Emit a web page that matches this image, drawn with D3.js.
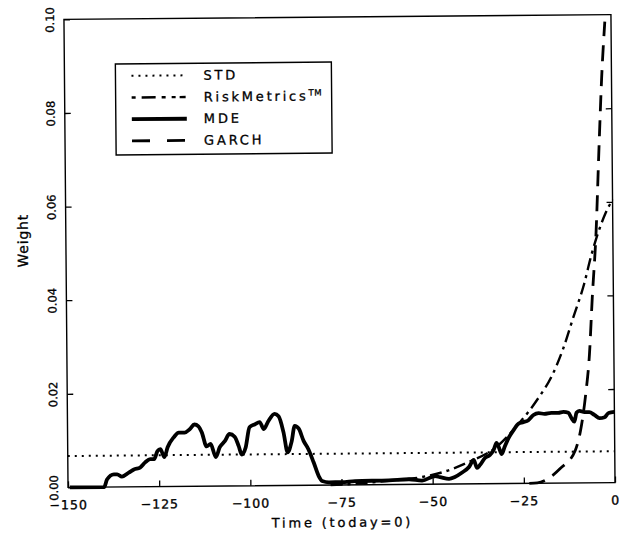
<!DOCTYPE html>
<html>
<head>
<meta charset="utf-8">
<script src="https://cdn.jsdelivr.net/npm/d3@7"></script>
<style>
  body { margin: 0; background: #fff; }
  text { fill: #000; }
</style>
</head>
<body>
<div id="chart"></div>
<script>
    // weights, time in days (today = 0)

    var stdT = [-150, 0];
    var stdW = [0.0067, 0.0067];

    var rmT = [-78, -70, -62, -55, -47, -40, -33, -26, -21, -17, -14, -11, -8, -6, -4, -2, 0];
    var rmW = [0.0000, 0.0003, 0.0008, 0.0013, 0.0026, 0.0047, 0.0075, 0.0130, 0.0180, 0.0230, 0.0285, 0.0355, 0.0425, 0.0485, 0.0535, 0.0575, 0.0605];

    var mdeT = [-149.5, -140.1, -139.3, -137.4, -136.5, -135.2, -133.2, -131.9, -130.2, -128.8, -127.4, -126.3,
                -125.4, -124.6, -123.5, -122.6, -120.9, -119.5, -117.9, -116.5, -115.2, -114.1, -113.2, -111.9,
                -110.8, -109.4, -108.3, -106.9, -105.6, -104.2, -103.1, -102.3, -101.2, -100.1, -98.7, -97.3,
                -96.2, -94.9, -93.2, -92.1, -90.8, -89.7, -88.6, -87.7, -86.6, -85.3, -84.0, -82.6, -81.2,
                -80.3, -78.4, -74.9, -71.3, -62.0, -56.5, -52.9, -49.4, -48.0, -45.5, -43.9, -42.0, -40.0,
                -38.7, -37.8, -37.0, -35.6, -34.3, -33.2, -32.4, -31.8, -31.0, -30.2, -29.1, -27.7, -26.3,
                -25.0, -23.6, -22.2, -20.8, -19.2, -17.3, -15.4, -14.0, -12.6, -11.8, -11.0, -10.4, -9.6,
                -8.2, -6.9, -5.5, -4.1, -2.7, -1.6, 0];
    var mdeW = [0.0000, 0.0000, 0.0016, 0.0027, 0.0027, 0.0022, 0.0031, 0.0037, 0.0041, 0.0052, 0.0059, 0.0059,
                0.0076, 0.0080, 0.0063, 0.0084, 0.0105, 0.0115, 0.0115, 0.0122, 0.0132, 0.0128, 0.0115, 0.0085,
                0.0090, 0.0062, 0.0083, 0.0096, 0.0111, 0.0105, 0.0085, 0.0067, 0.0082, 0.0125, 0.0131, 0.0136,
                0.0121, 0.0138, 0.0153, 0.0148, 0.0114, 0.0071, 0.0093, 0.0127, 0.0121, 0.0095, 0.0077, 0.0049, 0.0019,
                0.0009, 0.0006, 0.0006, 0.0008, 0.0009, 0.0011, 0.0008, 0.0017, 0.0015, 0.0011, 0.0015, 0.0024, 0.0036,
                0.0051, 0.0034, 0.0040, 0.0055, 0.0061, 0.0072, 0.0087, 0.0078, 0.0063, 0.0078, 0.0097, 0.0114, 0.0128,
                0.0131, 0.0135, 0.0146, 0.0150, 0.0148, 0.0150, 0.0150, 0.0152, 0.0150, 0.0139, 0.0131, 0.0150, 0.0154,
                0.0151, 0.0151, 0.0145, 0.0138, 0.0140, 0.0149, 0.0151];

    var garchT = [-23.5, -21.3, -18.3, -15.0, -10.8, -9.3, -7.9, -6.7, -5.8, -4.6, -3.6, -2.7, -1.7];
    var garchW = [0.0000, 0.0001, 0.0010, 0.0031, 0.0070, 0.0113, 0.0185, 0.0275, 0.0395, 0.0535, 0.0715, 0.0865, 0.0985];

    var xTicks = [-150, -125, -100, -75, -50, -25, 0];
    var yTicks = [0, 0.02, 0.04, 0.06, 0.08, 0.10];

    var legendNames = ["STD", "RiskMetrics", "MDE", "GARCH"];

    // line styles for each series (legend keeps its own dash for GARCH)
    var styles = {
        STD:   {width: 2, dash: "2,5", key: "2,5"},
        RiskMetrics: {width: 2.4, dash: "12,5,3,5", key: "4,6,14,6,4,6,4"},
        MDE:   {width: 3.8, dash: null, key: null},
        GARCH: {width: 2.8, dash: "16,9", key: "18,17"}
    };

    var W = 623, H = 533;
    var svg = d3.select("#chart").append("svg")
                .attr("width", W)
                .attr("height", H)
                .style("font-family", "'DejaVu Sans', sans-serif");

    // the scanned original sits slightly tilted
    var g = svg.append("g").attr("transform", "rotate(-0.5,340,252)");

    var x = d3.scaleLinear().domain([-150, 0]).range([66, 613]);
    var y = d3.scaleLinear().domain([0, 0.1]).range([485, 17]);

    function pairs(ts, ws) { return ts.map(function (t, i) { return [t, ws[i]]; }); }

    var line = d3.line()
                 .x(function (d) { return x(d[0]); })
                 .y(function (d) { return y(d[1]); })
                 .curve(d3.curveMonotoneX);

    // frame
    g.append("rect")
       .attr("x", x(-150)).attr("y", y(0.1))
       .attr("width", x(0) - x(-150)).attr("height", y(0) - y(0.1))
       .attr("fill", "none").attr("stroke", "#000").attr("stroke-width", 1.4);

    // bottom axis, ticks pointing in
    var gx = g.append("g")
                .attr("transform", "translate(0," + y(0) + ")")
                .call(d3.axisBottom(x).tickValues(xTicks).tickSize(-6).tickPadding(13)
                        .tickFormat(d3.format("d")));
    gx.select(".domain").remove();
    gx.selectAll(".tick line").attr("stroke-width", 1.3);
    gx.selectAll(".tick text")
      .attr("font-size", 12.5)
      .attr("font-family", "'DejaVu Sans', sans-serif")
      .attr("stroke", "#000").attr("stroke-width", 0.35)
      .style("letter-spacing", "1px");

    // left axis, rotated labels
    var gy = g.append("g")
                .attr("transform", "translate(" + x(-150) + ",0)")
                .call(d3.axisLeft(y).tickValues(yTicks).tickSize(-6).tickFormat(d3.format(".2f")));
    gy.select(".domain").remove();
    gy.selectAll(".tick line").attr("stroke-width", 1.3);
    gy.selectAll(".tick text")
      .attr("transform", "rotate(-90)")
      .attr("x", 0).attr("y", -10).attr("dy", 0)
      .attr("text-anchor", "middle")
      .attr("font-size", 11.5)
      .attr("stroke", "#000").attr("stroke-width", 0.3)
      .attr("font-family", "'DejaVu Sans', sans-serif");

    // right axis, ticks only
    var gr = g.append("g")
                .attr("transform", "translate(" + x(0) + ",0)")
                .call(d3.axisRight(y).tickValues(yTicks.slice(1, 5)).tickSize(-6).tickFormat(""));
    gr.select(".domain").remove();
    gr.selectAll(".tick line").attr("stroke-width", 1.3);

    // axis titles
    g.append("text")
       .attr("x", 340).attr("y", 527)
       .attr("text-anchor", "middle")
       .attr("font-size", 13)
       .attr("stroke", "#000").attr("stroke-width", 0.3)
       .style("letter-spacing", "2.8px")
       .text("Time (today=0)");

    g.append("text")
       .attr("transform", "translate(28,238) rotate(-90)")
       .attr("text-anchor", "middle")
       .attr("font-size", 14)
       .attr("stroke", "#000").attr("stroke-width", 0.3)
       .style("letter-spacing", "0.8px")
       .text("Weight");

    // the four series
    var series = [
        {name: "STD", data: pairs(stdT, stdW)},
        {name: "RiskMetrics", data: pairs(rmT, rmW)},
        {name: "MDE", data: pairs(mdeT, mdeW)},
        {name: "GARCH", data: pairs(garchT, garchW)}
    ];

    g.selectAll("path.series")
       .data(series)
       .enter()
       .append("path")
       .attr("class", "series")
       .attr("d", function (d) { return line(d.data); })
       .attr("fill", "none")
       .attr("stroke", "#000")
       .attr("stroke-linejoin", "round")
       .attr("stroke-width", function (d) { return styles[d.name].width; })
       .attr("stroke-dasharray", function (d) { return styles[d.name].dash; });

    // legend
    var legend = g.append("g");
    legend.append("rect")
          .attr("x", 117).attr("y", 62).attr("width", 216).attr("height", 91)
          .attr("fill", "#fff").attr("stroke", "#000").attr("stroke-width", 1.4);

    var rows = legend.selectAll("g.row")
                     .data(legendNames)
                     .enter()
                     .append("g")
                     .attr("class", "row")
                     .attr("transform", function (d, i) { return "translate(0," + (74 + i * 21.7) + ")"; });

    rows.append("line")
        .attr("x1", 133).attr("x2", 188)
        .attr("stroke", "#000")
        .attr("stroke-width", function (d) { return styles[d].width; })
        .attr("stroke-dasharray", function (d) { return styles[d].key; });

    var labels = rows.append("text")
        .attr("x", 205).attr("y", 4.5)
        .attr("font-size", 13)
        .attr("stroke", "#000").attr("stroke-width", 0.3)
        .style("letter-spacing", "2.8px")
        .text(function (d) { return d; });

    labels.filter(function (d) { return d === "RiskMetrics"; })
          .append("tspan")
          .attr("dy", -5)
          .attr("font-size", 8.5)
          .style("letter-spacing", "0.5px")
          .text("TM");
</script>
</body>
</html>
